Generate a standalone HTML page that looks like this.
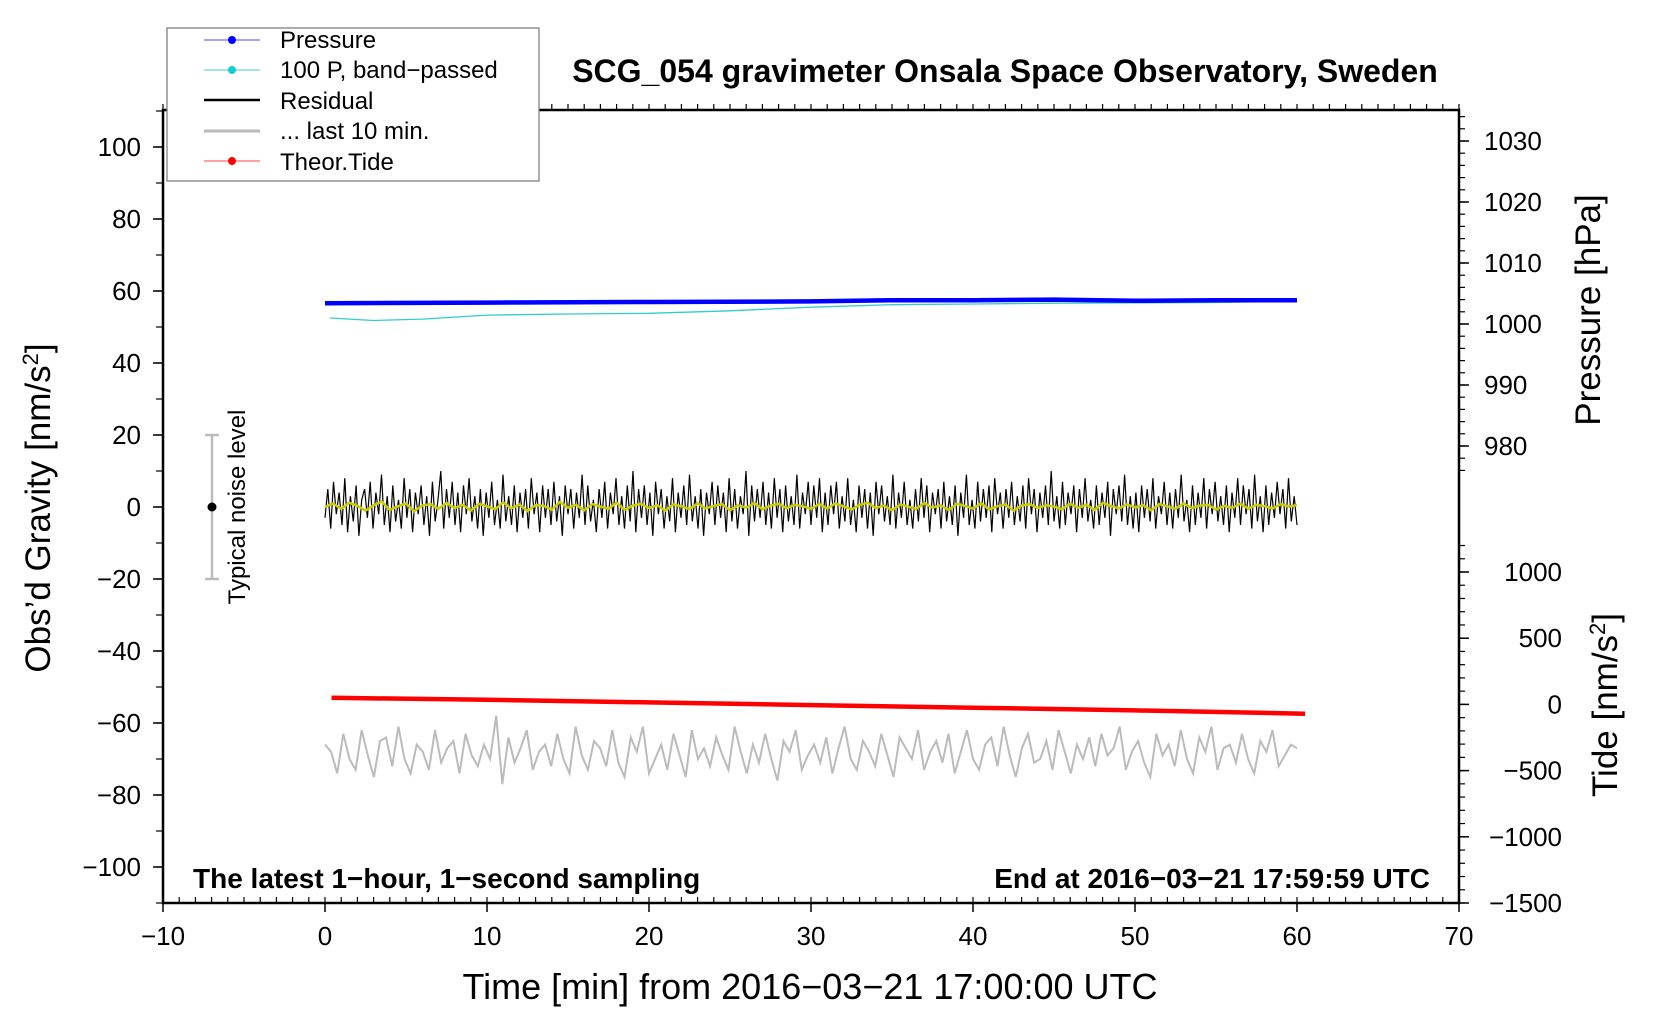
<!DOCTYPE html>
<html><head><meta charset="utf-8"><style>
body{margin:0;background:#fff}
svg{display:block;font-family:"Liberation Sans",Arial,sans-serif}
</style></head><body>
<svg id="c" width="1660" height="1020" viewBox="0 0 1660 1020">
<rect width="1660" height="1020" fill="#fff"/>
<g id="marks"></g>
<rect x="163" y="110" width="1296" height="793" fill="none" stroke="#000" stroke-width="2.5"/>
<g id="ticks"></g>
<text x="1005" y="82" font-size="32" font-weight="bold" text-anchor="middle">SCG_054 gravimeter Onsala Space Observatory, Sweden</text>
<text x="810" y="999" font-size="36" text-anchor="middle">Time [min] from 2016−03−21 17:00:00 UTC</text>
<text transform="translate(50,508) rotate(-90)" font-size="35" text-anchor="middle">Obs’d Gravity [nm/s<tspan font-size="22" dy="-12">2</tspan><tspan dy="12">]</tspan></text>
<text transform="translate(1600,310) rotate(-90)" font-size="35" text-anchor="middle">Pressure [hPa]</text>
<text transform="translate(1617,705) rotate(-90)" font-size="35" text-anchor="middle">Tide [nm/s<tspan font-size="22" dy="-12">2</tspan><tspan dy="12">]</tspan></text>
<text x="193" y="888" font-size="28" font-weight="bold">The latest 1−hour, 1−second sampling</text>
<text x="1430" y="888" font-size="28" font-weight="bold" text-anchor="end">End at 2016−03−21 17:59:59 UTC</text>
<g>
<line x1="212" y1="435" x2="212" y2="579" stroke="#bbb" stroke-width="2.5"/>
<line x1="205" y1="435" x2="219" y2="435" stroke="#bbb" stroke-width="2.5"/>
<line x1="205" y1="579" x2="219" y2="579" stroke="#bbb" stroke-width="2.5"/>
<circle cx="212" cy="507" r="4.5" fill="#000"/>
<text transform="translate(245,507) rotate(-90)" font-size="24" text-anchor="middle">Typical noise level</text>
</g>
<g>
<rect x="167" y="28" width="372" height="153" fill="#fff" stroke="#777" stroke-width="1.2"/>
<line x1="204" y1="40" x2="260" y2="40" stroke="#44f" stroke-width="1"/><circle cx="232" cy="40" r="4" fill="#00f"/>
<text x="280" y="48" font-size="24">Pressure</text>
<line x1="204" y1="70" x2="260" y2="70" stroke="#4cc" stroke-width="1"/><circle cx="232" cy="70" r="4" fill="#1cc"/>
<text x="280" y="78" font-size="24">100 P, band−passed</text>
<line x1="204" y1="100" x2="260" y2="100" stroke="#000" stroke-width="2.5"/>
<text x="280" y="109" font-size="24">Residual</text>
<line x1="204" y1="131" x2="260" y2="131" stroke="#bbb" stroke-width="3"/>
<text x="280" y="139" font-size="24">... last 10 min.</text>
<line x1="204" y1="161" x2="260" y2="161" stroke="#f44" stroke-width="1"/><circle cx="232" cy="161" r="4" fill="#f00"/>
<text x="280" y="170" font-size="24">Theor.Tide</text>
</g>
</svg>
<script>
const residual=[-3,5,-6,7,-2,4,-5,8,-7,3,-4,6,-8,2,5,-3,7,-6,4,-2,9,-5,3,-7,6,-4,2,-6,8,-3,5,-7,4,-2,6,-5,3,-8,7,-4,2,10,-6,5,-3,7,-5,4,-7,6,-2,8,-4,3,-6,5,-8,4,-3,7,-5,2,-6,9,-4,3,-5,6,-7,4,-3,5,-6,8,-2,4,-7,6,-3,5,-5,7,-4,3,-8,6,-2,5,-6,4,-3,9,-5,6,-4,2,-7,5,-3,7,-6,4,-2,8,-5,3,-6,6,-4,10,-7,5,-3,6,-5,4,-8,7,-2,5,-6,3,-4,8,-7,4,-3,6,-5,9,-4,3,-6,5,-8,4,-2,7,-5,6,-3,4,-7,8,-4,5,-6,3,-2,10,-8,6,-4,5,-3,7,-5,4,-6,8,-3,5,-7,6,-4,3,-5,9,-6,4,-2,7,-5,6,-3,8,-7,
4,-5,6,-2,7,-6,3,-4,8,-5,2,-7,6,-3,5,-6,4,-8,7,-2,6,-4,3,-5,9,-6,4,-3,7,-5,2,-6,5,-4,8,-3,6,-7,4,-2,5,-6,7,-4,3,-5,6,-8,4,-3,9,-5,2,-6,7,-4,5,-3,6,-7,8,-2,4,-6,5,-3,7,-5,3,-4,6,-6,8,-2,5,-7,4,-3,6,-5,10,-4,3,-6,7,-5,4,-2,6,-7,5,-3,8,-4,2,-6,6,-5,4,-3,7,-8,5,-2,6,-4,9,-5,3,-6,4,-7,6,-3,5,-4,8,-6,3,-2,7,-5,4,-6,5,-3,9,-4,2,-7,6,-5,4,-3,8,-6,5,-2,7,-4,3,-5,6,-7,4,-3,8,-5,6,-2,5,-6,9,-4,3,-7,6,-5,4,-3,7,-2,5,-6,8,-4,3,-5];
const smooth=[0,1,-0.5,1.2,0.3,-1,0.5,1.5,-0.8,0.2,1,-1.2,0.4,0.8,-0.5,1.1,-0.3,0.6,-1,0.9,0.2,-0.6,1.3,-0.4,0.7,-1.1,0.5,0.3,-0.7,1.4,-0.2,0.6,-0.9,0.8,0.1,-0.5,1.2,-0.8,0.4,0.9,-0.3,0.5,-1,0.7,0.2,-0.6,1,-0.4,0.3,0.8,-0.9,0.5,-0.2,1.1,-0.6,0.4,0.9,-0.3,0.6,0.2,-0.5,0.8,-0.4,1,0.2,-0.7,0.6,1.2,-0.3,0.4,-0.9,0.7,0.1,-0.5,1.1,-0.2,0.5,-0.8,0.9,0.3,-0.4,1,-0.6,0.2,0.7,-1,0.4,0.8,-0.3,0.5,0.1,-0.6,0.9,-0.2,0.6,-0.8,1.1,0.3,-0.4,0.7,-0.1,0.5,-0.9,0.8,0.2,-0.5,1,-0.3,0.4,0.6,-0.7,0.3,-0.2,0.9,-0.5,0.6,0.2,-0.4,0.8,0.1,0.5];
const lastTen=[-66,-68,-74,-63,-70,-73,-62,-69,-75,-65,-64,-72,-61,-70,-74,-66,-68,-73,-62,-71,-67,-65,-74,-63,-69,-72,-66,-70,-58,-77,-64,-71,-67,-62,-73,-68,-66,-72,-63,-70,-74,-61,-69,-73,-65,-67,-72,-62,-71,-75,-64,-68,-61,-74,-70,-66,-73,-63,-69,-75,-62,-70,-67,-72,-64,-69,-73,-61,-68,-74,-66,-71,-63,-70,-76,-65,-68,-62,-73,-69,-66,-71,-64,-74,-67,-61,-70,-73,-65,-68,-72,-63,-69,-75,-64,-67,-70,-62,-73,-68,
-65,-71,-63,-74,-68,-62,-70,-73,-66,-64,-72,-61,-69,-75,-67,-63,-71,-70,-65,-73,-62,-68,-74,-66,-70,-64,-72,-63,-69,-67,-61,-73,-68,-65,-71,-75,-63,-69,-66,-72,-62,-70,-74,-64,-68,-61,-73,-67,-66,-71,-63,-70,-74,-65,-68,-62,-72,-69,-66,-67];
const pressureTimes=[0,10,20,30,35,40,45,50,55,60];
const pressureVals=[1003.4,1003.5,1003.6,1003.7,1003.9,1003.9,1004.0,1003.8,1003.9,1003.9];
const bandTimes=[0.3,3,6,10,15,20,25,30,35,40,45,50,55,60];
const bandVals=[52.5,51.8,52.2,53.3,53.6,53.8,54.5,55.5,56.2,56.4,56.6,56.7,56.8,57.2];
const tideTimes=[0.4,10,20,30,40,50,60.5];
const tideVals=[50,35,15,-5,-25,-45,-70];
const xTicks=[-10,0,10,20,30,40,50,60,70];
const yTicks=[100,80,60,40,20,0,-20,-40,-60,-80,-100];
const pTicks=[1030,1020,1010,1000,990,980];
const tTicks=[1000,500,0,-500,-1000,-1500];

const X=t=>325+(t)*16.2;
const Y=v=>507-v*3.6;
const P=p=>141+(1030-p)*6.1;
const T=v=>704.4-v*0.1324;
const NS='http://www.w3.org/2000/svg';
const marks=document.getElementById('marks');
const ticks=document.getElementById('ticks');
function mk(tag,attrs,parent){const e=document.createElementNS(NS,tag);for(const k in attrs)e.setAttribute(k,attrs[k]);parent.appendChild(e);return e;}
function line(ts,vs,fy){return ts.map((t,i)=>X(t).toFixed(1)+','+fy(vs[i]).toFixed(1)).join(' ');}
function evenTimes(n,a,b){const r=[];for(let i=0;i<n;i++)r.push(a+(b-a)*i/(n-1));return r;}

let e;
e=mk('polyline',{points:line(evenTimes(lastTen.length,0,60),lastTen,Y),fill:'none',stroke:'#bbb','stroke-width':2},marks);


e=mk('polyline',{points:line(evenTimes(residual.length,0,60),residual,Y),fill:'none',stroke:'#000','stroke-width':1.2},marks);


e=mk('polyline',{points:line(evenTimes(smooth.length,0,60),smooth,Y),fill:'none',stroke:'#cc0','stroke-width':2.5},marks);


e=mk('polyline',{points:line(bandTimes,bandVals,Y),fill:'none',stroke:'#3cc','stroke-width':1.3},marks);


e=mk('polyline',{points:line(pressureTimes,pressureVals,P),fill:'none',stroke:'#00f','stroke-width':4.5},marks);


e=mk('polyline',{points:line(tideTimes,tideVals,T),fill:'none',stroke:'#f00','stroke-width':4.5},marks);



function txt(x,y,s,anchor,name){const t=mk('text',{x:x,y:y,'font-size':26,'text-anchor':anchor},ticks);t.textContent=s;

}
const fmt=v=>String(v).replace('-','−');
for(let m=-10;m<=70;m++){mk('line',{x1:X(m),y1:903,x2:X(m),y2:897,stroke:'#000','stroke-width':1.2},ticks);mk('line',{x1:X(m),y1:110,x2:X(m),y2:104,stroke:'#000','stroke-width':1.2},ticks);}
xTicks.forEach(v=>{mk('line',{x1:X(v),y1:903,x2:X(v),y2:912,stroke:'#000','stroke-width':1.5},ticks);txt(X(v),945,fmt(v),'middle','x-tick-label');});
for(let v=-110;v<=110;v+=10){mk('line',{x1:163,y1:Y(v),x2:156,y2:Y(v),stroke:'#000','stroke-width':1.2},ticks);}
yTicks.forEach(v=>{mk('line',{x1:163,y1:Y(v),x2:153,y2:Y(v),stroke:'#000','stroke-width':1.5},ticks);txt(141,Y(v)+9,fmt(v),'end','y-tick-label');});
for(let v=1034;v>=976;v-=2){mk('line',{x1:1459,y1:P(v),x2:1465,y2:P(v),stroke:'#000','stroke-width':1.2},ticks);}
pTicks.forEach(v=>{mk('line',{x1:1459,y1:P(v),x2:1469,y2:P(v),stroke:'#000','stroke-width':1.5},ticks);txt(1484,P(v)+9,fmt(v),'start','pressure-tick-label');});
for(let v=1200;v>=-1500;v-=100){mk('line',{x1:1459,y1:T(v),x2:1465,y2:T(v),stroke:'#000','stroke-width':1.2},ticks);}
tTicks.forEach(v=>{mk('line',{x1:1459,y1:T(v),x2:1469,y2:T(v),stroke:'#000','stroke-width':1.5},ticks);txt(1562,T(v)+9,fmt(v),'end','tide-tick-label');});
</script>
</body></html>
